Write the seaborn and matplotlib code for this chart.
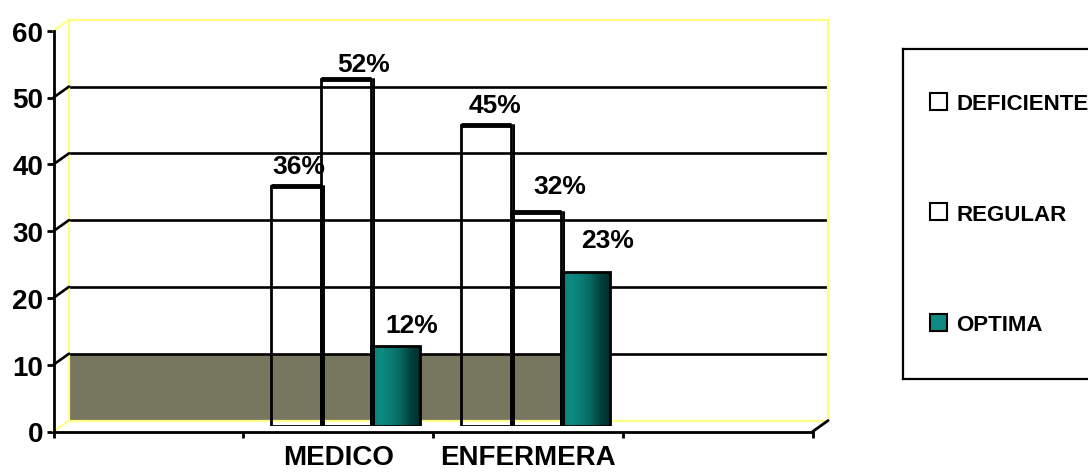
import numpy as np
import pandas as pd
import matplotlib
matplotlib.use("Agg")
import matplotlib.pyplot as plt
import matplotlib.transforms as mtransforms
from matplotlib.patches import Patch, ConnectionPatch
from matplotlib.colors import LinearSegmentedColormap
import seaborn as sns

# ── data ─────────────────────────────────────
CARGOS = ["MEDICO", "ENFERMERA"]
NIVELES = ["DEFICIENTE", "REGULAR", "OPTIMA"]
DEFICIENTE = [36, 45]
REGULAR = [52, 32]
OPTIMA = [12, 23]
Y_TICKS = [0, 10, 20, 30, 40, 50, 60]
BAND = (0, 10)          # olive strip on the back wall

# ── style ────────────────────────────────────
W, H = 1088, 477
OLIVE = "#77775F"
WALL = "#FFFF88"
TEAL = ["#0a7d76", "#0e8a82", "#0a7d76", "#066660", "#02403c", "#002e2b"]
# label shift (px) per level, per cargo: Excel puts them a bit to the right
LABEL_SHIFT = {
    "DEFICIENTE": [(3, 13), (9, 13)],
    "REGULAR":    [(18, 8), (24, 19)],
    "OPTIMA":     [(16, 14), (22, 25)],
}

sns.set_theme(style="white")
plt.rcParams["font.family"] = ["Liberation Sans", "DejaVu Sans"]
plt.rcParams["font.weight"] = "bold"
plt.rcParams["text.color"] = "black"

df = pd.DataFrame({
    "cargo": CARGOS * 3,
    "nivel": np.repeat(NIVELES, len(CARGOS)),
    "valor": DEFICIENTE + REGULAR + OPTIMA,
})


def box(left, top, right, bottom):
    return [left / W, 1 - bottom / H, (right - left) / W, (bottom - top) / H]


fig = plt.figure(figsize=(W / 100, H / 100), dpi=100, facecolor="white")

# front plane (axis lines), back wall (grid), middle (bars)
FRONT = (53.5, 31.7, 812.7, 432.5)
DX, DY = 15.5, -11.0
back_box = (FRONT[0] + DX, FRONT[1] + DY, FRONT[2] + DX, FRONT[3] + DY)
bar_box = (FRONT[0] + DX / 2, FRONT[1] + DY / 2, FRONT[2] + DX / 2, FRONT[3] + DY / 2)

# ── back wall ────────────────────────────────
ax_back = fig.add_axes(box(*back_box))
ax_back.set_xlim(-1.5, 2.5)
ax_back.set_ylim(Y_TICKS[0], Y_TICKS[-1])
ax_back.set_facecolor("white")
ax_back.axhspan(*BAND, xmin=0, xmax=0.67, color=OLIVE, lw=0, zorder=0)
for v in Y_TICKS[1:-1]:
    ax_back.axhline(v, color="black", lw=1.9, zorder=1)
ax_back.set_xticks([])
ax_back.set_yticks([])
for sp in ax_back.spines.values():
    sp.set_color(WALL)
    sp.set_linewidth(1.6)

# ── bars ─────────────────────────────────────
ax = fig.add_axes(box(*bar_box))
ax.patch.set_alpha(0)
sns.barplot(data=df, x="cargo", y="valor", hue="nivel",
            order=CARGOS, hue_order=NIVELES,
            palette={"DEFICIENTE": "white", "REGULAR": "white", "OPTIMA": TEAL[1]},
            width=0.785, edgecolor="black", linewidth=2, legend=False, ax=ax)
ax.set_xlim(-1.5, 2.5)
ax.set_ylim(Y_TICKS[0], Y_TICKS[-1])
ax.set_axis_off()

cmap = LinearSegmentedColormap.from_list("teal", TEAL)
grad = np.linspace(0, 1, 64).reshape(1, -1)
side = mtransforms.ScaledTranslation(3 / 100, 0, fig.dpi_scale_trans)

for nivel, cont in zip(NIVELES, ax.containers):
    for i, p in enumerate(cont.patches):
        x0, w, h = p.get_x(), p.get_width(), p.get_height()
        if nivel == "OPTIMA":
            im = ax.imshow(grad, cmap=cmap, aspect="auto",
                           extent=(x0, x0 + w, 0, h), zorder=p.get_zorder())
            im.set_clip_path(p)
            p.set_zorder(p.get_zorder() + 0.1)
            p.set_facecolor("none")
        else:
            p.set_facecolor("none")
            ax.plot([x0, x0 + w], [h, h], color="black", lw=3.5,
                    solid_capstyle="butt", zorder=3)
            ax.plot([x0 + w, x0 + w], [0, h], color="black", lw=1.4,
                    transform=ax.transData + side, zorder=3)
        dx, dy = LABEL_SHIFT[nivel][i]
        ax.annotate(f"{int(h)}%", (x0 + w / 2, h),
                    xytext=(dx * 0.72, dy * 0.72), textcoords="offset points",
                    ha="center", va="baseline", fontsize=19,
                    fontweight="bold", color="black")
ax.set_xlim(-1.5, 2.5)
ax.set_ylim(Y_TICKS[0], Y_TICKS[-1])

# ── front axis lines ─────────────────────────
ax_f = fig.add_axes(box(*FRONT))
ax_f.patch.set_alpha(0)
ax_f.set_xlim(-0.5, 3.5)
ax_f.set_ylim(Y_TICKS[0], Y_TICKS[-1])
for s in ["top", "right"]:
    ax_f.spines[s].set_visible(False)
for s in ["left", "bottom"]:
    ax_f.spines[s].set_color("black")
    ax_f.spines[s].set_linewidth(2)
ax_f.set_yticks(Y_TICKS)
ax_f.set_yticklabels([str(t) for t in Y_TICKS], fontsize=20, fontweight="bold")
ax_f.set_xticks([-0.5, 0.5, 1.5, 2.5, 3.5])
ax_f.set_xticklabels([])
ax_f.set_xticks([1, 2], minor=True)
ax_f.set_xticklabels(CARGOS, minor=True, fontsize=20, fontweight="bold")
ax_f.tick_params(axis="y", direction="out", length=5, width=2, pad=2.5,
                 left=True, colors="black")
ax_f.tick_params(axis="x", which="major", direction="out", length=4.5,
                 width=2, bottom=True, colors="black")
ax_f.tick_params(axis="x", which="minor", length=0, pad=9, colors="black")

# side-wall / floor diagonals
for v in Y_TICKS:
    col = WALL if v in (Y_TICKS[0], Y_TICKS[-1]) else "black"
    ax_f.add_artist(ConnectionPatch((-0.5, v), (-1.5, v), coordsA=ax_f.transData,
                                    coordsB=ax_back.transData, color=col,
                                    lw=1.6 if col == WALL else 1.9))
ax_f.add_artist(ConnectionPatch((3.5, 0), (2.5, 0), coordsA=ax_f.transData,
                                coordsB=ax_back.transData, color="black", lw=2))

# ── legend ───────────────────────────────────
ax_leg = fig.add_axes(box(903, 50, 1095, 380))
ax_leg.set_xticks([])
ax_leg.set_yticks([])
ax_leg.set_facecolor("white")
for sp in ax_leg.spines.values():
    sp.set_color("black")
    sp.set_linewidth(1.6)
handles = [Patch(facecolor="white", edgecolor="black", lw=1.5),
           Patch(facecolor="white", edgecolor="black", lw=1.5),
           Patch(facecolor=TEAL[1], edgecolor="black", lw=1.5)]
leg = ax_leg.legend(handles, NIVELES, loc="center left", frameon=False,
                    handlelength=0.8, handleheight=0.8, handletextpad=0.4,
                    labelspacing=4.0, borderaxespad=0.8,
                    prop={"family": ["Liberation Sans", "DejaVu Sans"],
                          "weight": "bold", "size": 16})
for t in leg.get_texts():
    t.set_color("black")

fig.savefig("out.png", dpi=100, facecolor="white")
